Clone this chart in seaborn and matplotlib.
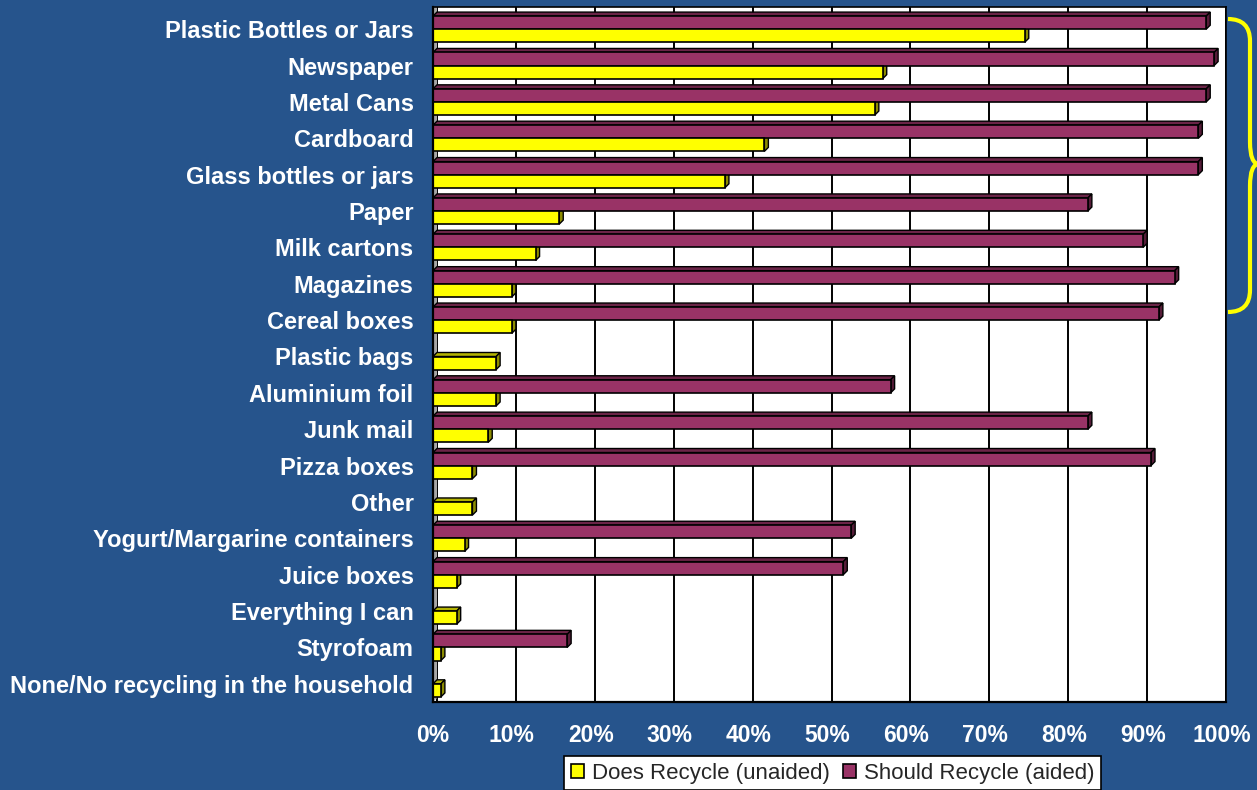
import numpy as np
import pandas as pd
import matplotlib
matplotlib.use("Agg")
import matplotlib.pyplot as plt
import seaborn as sns
from matplotlib.patches import Polygon, Patch, PathPatch
from matplotlib.path import Path
from matplotlib.transforms import ScaledTranslation

# ---- data -------------------------------------------------------------
items = [
    "Plastic Bottles or Jars", "Newspaper", "Metal Cans", "Cardboard",
    "Glass bottles or jars", "Paper", "Milk cartons", "Magazines",
    "Cereal boxes", "Plastic bags", "Aluminium foil", "Junk mail",
    "Pizza boxes", "Other", "Yogurt/Margarine containers", "Juice boxes",
    "Everything I can", "Styrofoam", "None/No recycling in the household",
]
does_recycle = [75, 57, 56, 42, 37, 16, 13, 10, 10, 8, 8, 7, 5, 5, 4, 3, 3, 1, 1]
should_recycle = [98, 99, 98, 97, 97, 83, 90, 94, 92, 0, 58, 83, 91, 0, 53, 52, 0, 17, 0]
series_names = ["Does Recycle (unaided)", "Should Recycle (aided)"]
x_ticks = list(range(0, 101, 10))
x_tick_labels = [f"{t}%" for t in x_ticks]

# ---- style ------------------------------------------------------------
BG = "#26548C"
YELLOW = "#FFFF00"
PURPLE = "#993366"
DEPTH = {YELLOW: ("#B3B300", "#8C8C00"), PURPLE: ("#6B2447", "#551C38")}

sns.set_style("white")
plt.rcParams["font.family"] = ["Liberation Sans", "DejaVu Sans"]

n = len(items)
df = pd.DataFrame({
    "item": items * 2,
    "series": [series_names[0]] * n + [series_names[1]] * n,
    "pct": does_recycle + should_recycle,
})

W, H = 1257, 790
fig = plt.figure(figsize=(W / 100, H / 100), dpi=100, facecolor=BG)
ax = fig.add_axes([433 / W, 1 - 702 / H, (1226 - 433) / W, (702 - 7) / H])
ax.set_facecolor("white")

sns.barplot(
    data=df, x="pct", y="item", hue="series", order=items,
    hue_order=[series_names[1], series_names[0]],
    palette={series_names[0]: YELLOW, series_names[1]: PURPLE},
    orient="h", width=0.72, dodge=True, saturation=1,
    edgecolor="black", linewidth=1.2, errorbar=None, legend=False, ax=ax,
)

DEPTH_PX = 4
x_span = 100 * (1226 - 433) / (1222 - 433)
ax.set_xlim(0, x_span)
unit_px = (702 - 11) / n
ax.set_ylim(n - 0.5, -0.5 - DEPTH_PX / unit_px)

# ---- axes decoration ----------------------------------------------------
ax.set_xlabel("")
ax.set_ylabel("")
ax.set_xticks(x_ticks)
ax.set_xticklabels(x_tick_labels, color="white", fontweight="bold", fontsize=16.5)
ax.set_yticks(range(n))
ax.set_yticklabels(items, color="white", fontweight="bold", fontsize=17)
ax.set_yticks(np.arange(-0.5, n, 1.0), minor=True)
ax.tick_params(axis="y", which="major", length=0, pad=14)
ax.tick_params(axis="y", which="minor", length=6, width=1.5, color="#111111", direction="out")
ax.tick_params(axis="x", which="major", length=10, width=1.5, color="#111111", direction="out", pad=6)

for side, sp in ax.spines.items():
    sp.set_visible(True)
    sp.set_color("black")
    sp.set_linewidth(1.2)
ax.spines["left"].set_linewidth(1.6)
ax.spines["bottom"].set_linewidth(1.6)

ax.set_axisbelow(True)
ax.xaxis.grid(True, color="black", linewidth=1.4)
grid_shift = ScaledTranslation(DEPTH_PX / 100, 0, fig.dpi_scale_trans)
for gl in ax.get_xgridlines():
    gl.set_transform(gl.get_transform() + grid_shift)

# ---- 3-D depth faces derived from the drawn bars -------------------------
fig.canvas.draw()
inv = ax.transData.inverted()
p0 = inv.transform(ax.transData.transform((0, 0)))
d = inv.transform(ax.transData.transform((0, 0)) + np.array([DEPTH_PX, DEPTH_PX]))
dx, dy = d[0] - p0[0], d[1] - p0[1]

# left wall strip
y_lo, y_hi = ax.get_ylim()
ax.add_patch(Polygon([(0, y_lo), (dx, y_lo + dy), (dx, y_hi), (0, y_hi)],
                     closed=True, facecolor="#A6A6A6", edgecolor="none", zorder=0.6))

bars = list(ax.patches)[:-1]
for bar in bars:
    w = bar.get_width()
    if not np.isfinite(w) or w <= 0:
        continue
    y0 = bar.get_y()
    h = bar.get_height()
    top, bot = min(y0, y0 + h), max(y0, y0 + h)
    fc = matplotlib.colors.to_hex(bar.get_facecolor()).upper()
    top_c, side_c = DEPTH.get(fc, ("#888888", "#666666"))
    z = bar.get_zorder() - 0.05
    ax.add_patch(Polygon([(0, top), (dx, top + dy), (w + dx, top + dy), (w, top)],
                         closed=True, facecolor=top_c, edgecolor="black", linewidth=1.0, zorder=z))
    ax.add_patch(Polygon([(w, top), (w + dx, top + dy), (w + dx, bot + dy), (w, bot)],
                         closed=True, facecolor=side_c, edgecolor="black", linewidth=1.0, zorder=z))

# ---- legend ---------------------------------------------------------------
handles = [Patch(facecolor=YELLOW, edgecolor="black", linewidth=1.2),
           Patch(facecolor=PURPLE, edgecolor="black", linewidth=1.2)]
leg = fig.legend(handles, series_names, loc="upper left",
                 bbox_to_anchor=(564 / W, 1 - 756 / H), ncol=2, frameon=True,
                 fancybox=False, edgecolor="black", framealpha=1, fontsize=16,
                 handlelength=0.6, handleheight=0.6, handletextpad=0.35,
                 columnspacing=0.6, borderpad=0.3, borderaxespad=0)
leg.get_frame().set_linewidth(1.2)

# ---- curly bracket grouping the top items ---------------------------------
def fp(x, y):
    return (x / W, 1 - y / H)

verts = [fp(1228, 19), fp(1250, 19), fp(1250, 41), fp(1250, 142),
         fp(1250, 164), fp(1259, 164), fp(1250, 164), fp(1250, 186),
         fp(1250, 290), fp(1250, 312), fp(1228, 312)]
codes = [Path.MOVETO, Path.CURVE3, Path.CURVE3, Path.LINETO,
         Path.CURVE3, Path.CURVE3, Path.CURVE3, Path.CURVE3,
         Path.LINETO, Path.CURVE3, Path.CURVE3]
fig.add_artist(PathPatch(Path(verts, codes), transform=fig.transFigure,
                         facecolor="none", edgecolor=YELLOW, linewidth=3.0))

fig.savefig("out.png", dpi=100, facecolor=BG)
